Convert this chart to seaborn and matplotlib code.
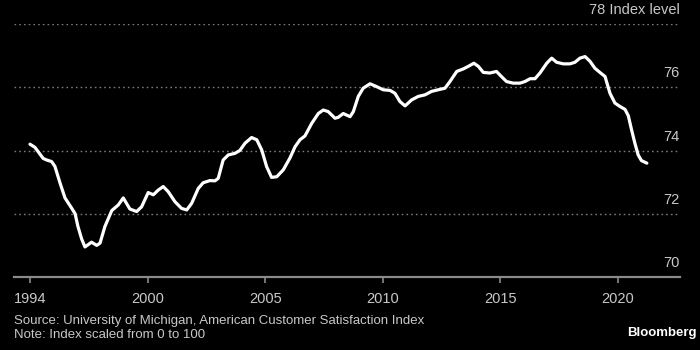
import pandas as pd
import matplotlib
matplotlib.use('Agg')
import matplotlib.pyplot as plt
import seaborn as sns

# ============================================================
# 数据
# ============================================================
YEARS = [1994.98, 1995.19, 1995.54, 1995.69, 1995.90, 1996.04, 1996.26, 1996.47,
         1996.75, 1996.90, 1997.02, 1997.18, 1997.32, 1997.60, 1997.82, 1997.96,
         1998.17, 1998.46, 1998.74, 1998.95, 1999.23, 1999.52, 1999.73, 2000.01,
         2000.23, 2000.44, 2000.65, 2000.86, 2001.15, 2001.43, 2001.65, 2001.86,
         2002.14, 2002.35, 2002.64, 2002.85, 2002.99, 2003.20, 2003.42, 2003.70,
         2003.91, 2004.13, 2004.41, 2004.63, 2004.84, 2005.05, 2005.26, 2005.48,
         2005.76, 2006.04, 2006.26, 2006.47, 2006.68, 2006.97, 2007.25, 2007.46,
         2007.67, 2007.96, 2008.10, 2008.31, 2008.60, 2008.74, 2008.95, 2009.16,
         2009.45, 2009.73, 2010.01, 2010.30, 2010.51, 2010.72, 2010.94, 2011.22,
         2011.50, 2011.79, 2012.07, 2012.35, 2012.64, 2012.85, 2013.14, 2013.42,
         2013.63, 2013.87, 2014.06, 2014.27, 2014.55, 2014.83, 2015.04, 2015.26,
         2015.54, 2015.83, 2016.04, 2016.26, 2016.47, 2016.68, 2016.97, 2017.18,
         2017.39, 2017.67, 2017.96, 2018.17, 2018.38, 2018.60, 2018.81, 2019.02,
         2019.23, 2019.45, 2019.66, 2019.87, 2020.09, 2020.30, 2020.44, 2020.58,
         2020.72, 2020.86, 2021.00, 2021.23]
INDEX_LEVEL = [74.20, 74.10, 73.75, 73.70, 73.65, 73.50, 72.97, 72.50,
               72.18, 72.00, 71.60, 71.20, 70.95, 71.10, 71.00, 71.07,
               71.60, 72.10, 72.28, 72.50, 72.15, 72.07, 72.22, 72.67,
               72.60, 72.75, 72.86, 72.70, 72.38, 72.17, 72.12, 72.33,
               72.80, 72.98, 73.05, 73.04, 73.12, 73.70, 73.86, 73.91,
               74.00, 74.23, 74.41, 74.34, 74.02, 73.49, 73.15, 73.17,
               73.39, 73.76, 74.12, 74.34, 74.46, 74.86, 75.17, 75.28,
               75.23, 75.02, 75.05, 75.17, 75.07, 75.23, 75.71, 75.97,
               76.11, 76.02, 75.92, 75.90, 75.81, 75.55, 75.41, 75.60,
               75.71, 75.76, 75.87, 75.92, 75.97, 76.18, 76.50, 76.58,
               76.66, 76.76, 76.66, 76.47, 76.45, 76.50, 76.34, 76.18,
               76.13, 76.13, 76.18, 76.27, 76.27, 76.45, 76.76, 76.92,
               76.79, 76.74, 76.74, 76.79, 76.92, 76.97, 76.82, 76.60,
               76.47, 76.34, 75.81, 75.50, 75.39, 75.30, 75.10, 74.65,
               74.23, 73.86, 73.68, 73.60]

X_TICKS = [YEARS[0], 2000, 2005, 2010, 2015, 2020]
X_TICK_LABELS = ['1994', '2000', '2005', '2010', '2015', '2020']
Y_TICKS = [70, 72, 74, 76, 78]
Y_TICK_LABELS = ['70', '72', '74', '76', '78 Index level']

SOURCE = 'Source: University of Michigan, American Customer Satisfaction Index'
NOTE = 'Note: Index scaled from 0 to 100'

BG = 'black'
TEXT_C = '#c8c8c8'
GRID_C = '#7a7a7a'

sns.set_theme(style='dark')
plt.rcParams['font.family'] = ['Liberation Sans', 'DejaVu Sans']
plt.rcParams['axes.unicode_minus'] = False

df = pd.DataFrame({'year': YEARS, 'index': INDEX_LEVEL})

fig = plt.figure(figsize=(7, 3.5), dpi=100, facecolor=BG)
ax = fig.add_axes([14 / 700, 73 / 350, 666 / 700, 253 / 350])
ax.set_facecolor(BG)

# 虚线网格
for yv in Y_TICKS[1:]:
    ax.axhline(yv, color=GRID_C, lw=1.0, ls=(0, (1.2, 2.2)), zorder=1)

sns.lineplot(data=df, x='year', y='index', ax=ax, color='white',
             linewidth=2.3, zorder=3, solid_joinstyle='round',
             solid_capstyle='round')

ax.set_xlim(1994.30, 2022.64)
ax.set_ylim(70, 78)

for s in ['top', 'left', 'right']:
    ax.spines[s].set_visible(False)
ax.spines['bottom'].set_color('#8a8a8a')
ax.spines['bottom'].set_linewidth(1.6)

ax.set_xticks(X_TICKS)
ax.set_xticklabels(X_TICK_LABELS)
ax.tick_params(axis='x', colors='#8a8a8a', labelcolor=TEXT_C, length=4,
               width=1.2, direction='out', pad=7, labelsize=10.5, bottom=True)
ax.set_yticks([])
ax.set_xlabel('')
ax.set_ylabel('')
ax.grid(False)

# 右侧刻度标签（位于网格线上方）
for yv, lab in zip(Y_TICKS, Y_TICK_LABELS):
    ax.annotate(lab, xy=(1.0, yv), xycoords=ax.get_yaxis_transform(),
                xytext=(0, 5), textcoords='offset points',
                ha='right', va='bottom', color=TEXT_C, fontsize=10.5)

fig.text(14 / 700, 1 - 321 / 350, SOURCE, color=TEXT_C, fontsize=9.5,
         ha='left', va='center')
fig.text(14 / 700, 1 - 335 / 350, NOTE, color=TEXT_C, fontsize=9.5,
         ha='left', va='center')
fig.text(697 / 700, 1 - 333 / 350, 'Bloomberg', color='white', fontsize=9.5,
         fontweight='bold', ha='right', va='center')

fig.savefig('out.png', dpi=100, facecolor=BG)
